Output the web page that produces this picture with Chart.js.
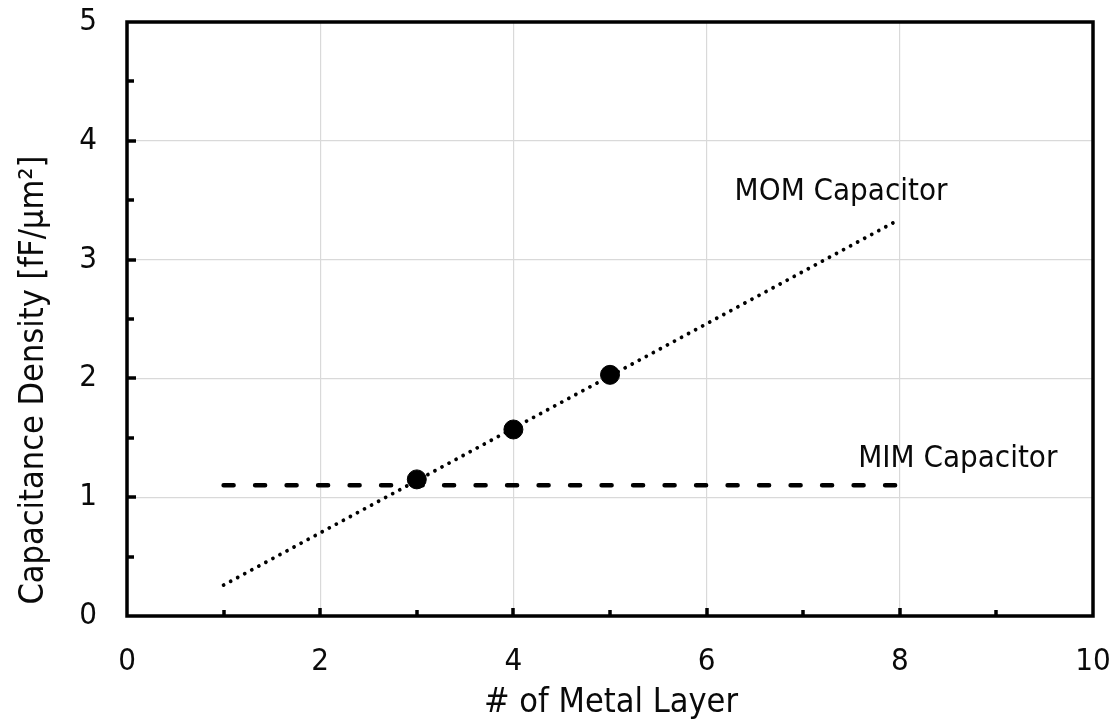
<!DOCTYPE html>
<html>
<head>
<meta charset="utf-8">
<script src="https://cdn.jsdelivr.net/npm/chart.js@4/dist/chart.umd.min.js"></script>
<style>
  html, body { margin: 0; padding: 0; background: #fff; }
  #wrap { width: 1118px; height: 719px; }
</style>
</head>
<body>
<div id="wrap"><canvas id="c" width="1118" height="719"></canvas></div>
<script>
// Measured MOM capacitance density per number of metal layers
const momLayers = [3, 4, 5];
const momDensity = [1.15, 1.57, 2.03];

// Linear trend of the MOM data, extended from 1 to 8 layers
const trendLayers = [1, 8];
const trendDensity = [0.26, 3.34];

// MIM capacitor density (constant, independent of layer count)
const mimLayers = [1, 8];
const mimDensity = [1.1, 1.1];

// Axis ranges and label text
const xRange = [0, 10];
const yRange = [0, 5];
const xTitle = '# of Metal Layer';
const yTitle = 'Capacitance Density [fF/\u03BCm\u00B2]';
const seriesLabels = [
  { text: 'MOM Capacitor', x: 6.29, y: 3.57 },
  { text: 'MIM Capacitor', x: 7.57, y: 1.32 }
];

const FONT = '"DejaVu Sans Condensed", "DejaVu Sans", sans-serif';
const GRID = '#d9d9d9';
const INK = '#0a0a0a';

const toPts = (xs, ys) => xs.map((x, i) => ({ x, y: ys[i] }));

// Frame, inward tick marks, axis titles and in-plot series labels
const framePlugin = {
  id: 'frame',
  afterDraw(chart) {
    const { ctx, chartArea: a, scales: { x, y } } = chart;
    ctx.save();
    ctx.strokeStyle = '#000';
    ctx.lineWidth = 3.5;
    ctx.lineCap = 'butt';
    // x-axis ticks (every 1, major at even values)
    for (let v = xRange[0] + 1; v < xRange[1]; v++) {
      const px = Math.round(x.getPixelForValue(v));
      const len = v % 2 === 0 ? 8 : 6;
      ctx.beginPath();
      ctx.moveTo(px, a.bottom);
      ctx.lineTo(px, a.bottom - len);
      ctx.stroke();
    }
    // y-axis ticks (every 0.5, major at integers)
    for (let v = yRange[0] + 0.5; v < yRange[1]; v += 0.5) {
      const py = Math.round(y.getPixelForValue(v));
      const len = Number.isInteger(v) ? 9 : 7;
      ctx.beginPath();
      ctx.moveTo(a.left, py);
      ctx.lineTo(a.left + len, py);
      ctx.stroke();
    }
    // plot frame
    ctx.strokeRect(a.left, a.top, a.right - a.left, a.bottom - a.top);

    // series labels
    ctx.fillStyle = INK;
    ctx.font = '31px ' + FONT;
    ctx.textAlign = 'left';
    ctx.textBaseline = 'middle';
    seriesLabels.forEach(l => {
      ctx.fillText(l.text, x.getPixelForValue(l.x), y.getPixelForValue(l.y));
    });

    // axis titles
    ctx.font = '34px ' + FONT;
    ctx.textAlign = 'center';
    ctx.textBaseline = 'alphabetic';
    ctx.fillText(xTitle, (a.left + a.right) / 2 + 1, 712);

    ctx.translate(43, 380);
    ctx.rotate(-Math.PI / 2);
    ctx.fillText(yTitle, 0, 0);
    ctx.restore();
  }
};

// keep the plot box fixed: no extra room for edge tick labels
function noEdgePadding(s) {
  s.paddingTop = 0;
  s.paddingBottom = 0;
  s.paddingLeft = 0;
  s.paddingRight = 0;
}

new Chart(document.getElementById('c'), {
  type: 'scatter',
  data: {
    datasets: [
      {
        label: 'MOM',
        data: toPts(momLayers, momDensity),
        backgroundColor: '#000',
        borderColor: '#000',
        pointRadius: 9.5,
        pointHoverRadius: 9.5,
        showLine: false,
        order: 0
      },
      {
        label: 'MIM',
        data: toPts(mimLayers, mimDensity),
        showLine: true,
        borderColor: '#000',
        borderWidth: 4.5,
        borderDash: [10, 21.5],
        borderCapStyle: 'round',
        pointRadius: 0,
        order: 1
      },
      {
        label: 'Trend',
        data: toPts(trendLayers, trendDensity),
        showLine: true,
        borderColor: '#000',
        borderWidth: 3.8,
        borderDash: [0.01, 8],
        borderCapStyle: 'round',
        pointRadius: 0,
        order: 2
      }
    ]
  },
  options: {
    responsive: false,
    animation: false,
    events: [],
    layout: { padding: { left: 0, top: 22, right: 25, bottom: 0 } },
    plugins: { legend: { display: false }, tooltip: { enabled: false } },
    scales: {
      x: {
        type: 'linear',
        min: xRange[0],
        max: xRange[1],
        afterFit(s) { s.height = 103; noEdgePadding(s); },
        border: { display: false },
        grid: {
          drawTicks: false,
          lineWidth: 1.2,
          color: c => (c.tick && c.tick.value % 2 === 0 && c.tick.value > xRange[0] && c.tick.value < xRange[1]) ? GRID : 'rgba(0,0,0,0)'
        },
        ticks: {
          stepSize: 1,
          autoSkip: false,
          maxRotation: 0,
          padding: 27,
          color: INK,
          font: { family: FONT, size: 31 },
          callback: v => (v % 2 === 0 ? String(v) : '')
        },
        title: { display: false }
      },
      y: {
        type: 'linear',
        min: yRange[0],
        max: yRange[1],
        afterFit(s) { s.width = 127; noEdgePadding(s); },
        border: { display: false },
        grid: {
          drawTicks: false,
          lineWidth: 1.2,
          color: c => (c.tick && Number.isInteger(c.tick.value) && c.tick.value > yRange[0] && c.tick.value < yRange[1]) ? GRID : 'rgba(0,0,0,0)'
        },
        ticks: {
          stepSize: 0.5,
          autoSkip: false,
          padding: 30,
          color: INK,
          font: { family: FONT, size: 31 },
          callback: v => (Number.isInteger(v) ? String(v) : '')
        },
        title: { display: false }
      }
    }
  },
  plugins: [framePlugin]
});
</script>
</body>
</html>
